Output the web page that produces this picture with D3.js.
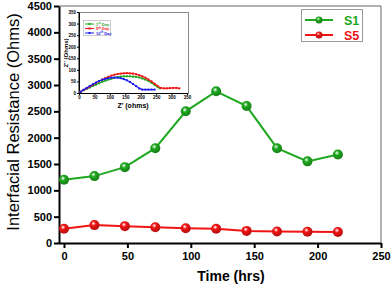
<!DOCTYPE html>
<html>
<head>
<meta charset="utf-8">
<script src="https://cdn.jsdelivr.net/npm/d3@7"></script>
<style>
  body { margin: 0; background: #fff; }
  svg { display: block; font-family: Arial, "Liberation Sans", sans-serif; }
</style>
</head>
<body>
<svg id="chart" width="392" height="286"></svg>
<script>
// main chart data
const hours = [0, 24, 48, 72, 96, 120, 144, 168, 192, 216];
const s1 = [1200, 1270, 1440, 1800, 2500, 2880, 2600, 1800, 1550, 1680];
const s5 = [270, 340, 320, 300, 280, 270, 230, 220, 215, 210];
const xTicks = [0, 50, 100, 150, 200, 250];
const yTicks = [0, 500, 1000, 1500, 2000, 2500, 3000, 3500, 4000, 4500];

// inset Nyquist data  [Z', Z'']
const day1 = [[5,5],[15,12],[25,18],[35,24],[45,30],[55,36],[65,42],[75,48],[85,53],[95,58],[105,62],[115,66],[125,69],[135,71],[145,72],[155,72],[165,72],[175,71],[185,70],[195,67],[205,63],[215,58],[225,52],[235,44],[245,35],[255,26],[262,20]];
const day5 = [[5,5],[15,13],[25,20],[35,28],[45,35],[55,43],[65,51],[75,58],[85,64],[95,70],[105,75],[115,79],[125,82],[135,84],[145,85],[155,86],[165,85],[175,84],[185,81],[195,77],[205,72],[215,66],[225,58],[235,50],[245,40],[255,30],[265,22],[275,20],[285,20],[295,21],[305,22],[315,22],[325,20]];
const day10 = [[5,5],[15,14],[25,22],[35,30],[45,38],[55,45],[65,52],[75,57],[85,61],[95,64],[105,66],[115,67],[125,66],[135,64],[145,60],[155,55],[165,48],[175,39],[185,30],[195,20],[205,15],[215,15],[225,15],[235,15],[245,15]];
const insetTicks = [0, 50, 100, 150, 200, 250, 300, 350];

const GREEN = "#1fa81f", RED = "#f01414", BLUE = "#1a1aee";

const svg = d3.select("#chart");

const defs = svg.append("defs");
function ball(id, c) {
    const g = defs.append("radialGradient").attr("id", id)
        .attr("cx", "40%").attr("cy", "35%").attr("r", "65%");
    g.append("stop").attr("offset", "0%").attr("stop-color", "#fff").attr("stop-opacity", 0.85);
    g.append("stop").attr("offset", "35%").attr("stop-color", c);
    g.append("stop").attr("offset", "100%").attr("stop-color", d3.color(c).darker(0.8));
}
ball("gG", GREEN);
ball("gR", RED);

const x = d3.scaleLinear().domain([0, 250]).range([64, 381]);
const y = d3.scaleLinear().domain([0, 4500]).range([243, 6]);
const axisX = 59;

// frame (top + right)
svg.append("path")
    .attr("d", `M${axisX},6H381V243`)
    .attr("fill", "none").attr("stroke", "#666").attr("stroke-width", 1);

// axes
const gy = svg.append("g").attr("transform", `translate(${axisX},0)`)
    .call(d3.axisLeft(y).tickValues(yTicks).tickSize(5).tickSizeOuter(0).tickFormat(d3.format("d")));
const gx = svg.append("g").attr("transform", "translate(0,243)")
    .call(d3.axisBottom(x).tickValues(xTicks).tickSize(5).tickSizeOuter(0));
gx.select(".domain").attr("d", `M${axisX},0.5H381`);
[gx, gy].forEach(g => {
    g.selectAll("path,line").attr("stroke", "#000").attr("stroke-width", 2);
    g.selectAll("text").attr("font-size", 11).attr("font-weight", "bold")
        .attr("font-family", "Arial, 'Liberation Sans', sans-serif").attr("fill", "#000");
});
gy.selectAll("text").attr("x", -7);
gx.selectAll("text").attr("y", 9);

svg.append("text").attr("x", 231).attr("y", 281).attr("text-anchor", "middle")
    .attr("font-size", 14).attr("font-weight", "bold").text("Time (hrs)");
svg.append("text").attr("transform", "translate(19,122) rotate(-90)")
    .attr("text-anchor", "middle").attr("font-size", 16.5).text("Interfacial Resistance (Ohms)");

// series
const line = d3.line().x(d => x(d[0])).y(d => y(d[1]));
function series(vals, col, grad) {
    const pts = hours.map((h, i) => [h, vals[i]]);
    svg.append("path").datum(pts).attr("d", line)
        .attr("fill", "none").attr("stroke", col).attr("stroke-width", 2);
    svg.selectAll(null).data(pts).enter().append("circle")
        .attr("cx", d => x(d[0])).attr("cy", d => y(d[1])).attr("r", 5)
        .attr("fill", `url(#${grad})`);
}
series(s1, GREEN, "gG");
series(s5, RED, "gR");

// legend
const lg = svg.append("g");
lg.append("rect").attr("x", 301.5).attr("y", 9.5).attr("width", 61).attr("height", 32)
    .attr("fill", "#fff").attr("stroke", "#999");
[["S1", GREEN, "gG", 20], ["S5", RED, "gR", 35]].forEach(([t, c, g, yy]) => {
    lg.append("line").attr("x1", 305).attr("x2", 333).attr("y1", yy).attr("y2", yy)
        .attr("stroke", c).attr("stroke-width", 2);
    lg.append("circle").attr("cx", 319).attr("cy", yy).attr("r", 3.5).attr("fill", `url(#${g})`);
    lg.append("text").attr("x", 344).attr("y", yy + 4.5).attr("font-size", 12.5)
        .attr("font-weight", "bold").attr("fill", c).text(t);
});

// inset
const ix = d3.scaleLinear().domain([0, 350]).range([79, 187]);
const iy = d3.scaleLinear().domain([0, 350]).range([93, 12]);
const inset = svg.append("g");
inset.append("rect").attr("x", 78.5).attr("y", 12.5).attr("width", 110).attr("height", 81)
    .attr("fill", "#fff").attr("stroke", "#888").attr("stroke-width", 1);
const igx = inset.append("g").attr("transform", "translate(0,93)")
    .call(d3.axisBottom(ix).tickValues(insetTicks).tickSize(2).tickSizeOuter(0));
const igy = inset.append("g").attr("transform", "translate(79,0)")
    .call(d3.axisLeft(iy).tickValues(insetTicks).tickSize(2).tickSizeOuter(0));
[igx, igy].forEach(g => {
    g.selectAll("path,line").attr("stroke", "#000").attr("stroke-width", 1);
    g.selectAll("text").attr("font-size", 4.5).attr("font-weight", "bold")
        .attr("font-family", "Arial, sans-serif").attr("fill", "#000");
});
igx.selectAll("text").attr("y", 3);
igy.selectAll("text").attr("x", -3);
inset.append("text").attr("x", 133).attr("y", 108).attr("text-anchor", "middle")
    .attr("font-size", 7).attr("font-weight", "bold").text("Z' (ohms)");
inset.append("text").attr("transform", "translate(68,53) rotate(-90)").attr("text-anchor", "middle")
    .attr("font-size", 6).attr("font-weight", "bold").text("Z'' (Ohms)");

const iline = d3.line().x(d => ix(d[0])).y(d => iy(d[1]));
[[day1, GREEN], [day5, RED], [day10, BLUE]].forEach(([pts, c]) => {
    inset.append("path").datum(pts).attr("d", iline)
        .attr("fill", "none").attr("stroke", c).attr("stroke-width", 1.2);
    inset.selectAll(null).data(pts).enter().append("rect")
        .attr("x", d => ix(d[0]) - 1).attr("y", d => iy(d[1]) - 1)
        .attr("width", 2).attr("height", 2).attr("fill", c);
});

// inset legend
const il = inset.append("g");
il.append("rect").attr("x", 83.5).attr("y", 20.5).attr("width", 27).attr("height", 15)
    .attr("fill", "#fff").attr("stroke", "#aaa").attr("stroke-width", 0.6);
[["1", "st", GREEN, 24], ["5", "th", RED, 28.5], ["10", "th", BLUE, 33]].forEach(([n, sup, c, yy]) => {
    il.append("line").attr("x1", 85).attr("x2", 94).attr("y1", yy).attr("y2", yy)
        .attr("stroke", c).attr("stroke-width", 1);
    il.append("rect").attr("x", 88.5).attr("y", yy - 1).attr("width", 2).attr("height", 2).attr("fill", c);
    const t = il.append("text").attr("x", 96).attr("y", yy + 1.5).attr("font-size", 4)
        .attr("font-weight", "bold").attr("fill", c);
    t.append("tspan").text(n);
    t.append("tspan").attr("font-size", 2.8).attr("dy", -1.3).text(sup);
    t.append("tspan").attr("dy", 1.3).text(" Day");
});
</script>
</body>
</html>
